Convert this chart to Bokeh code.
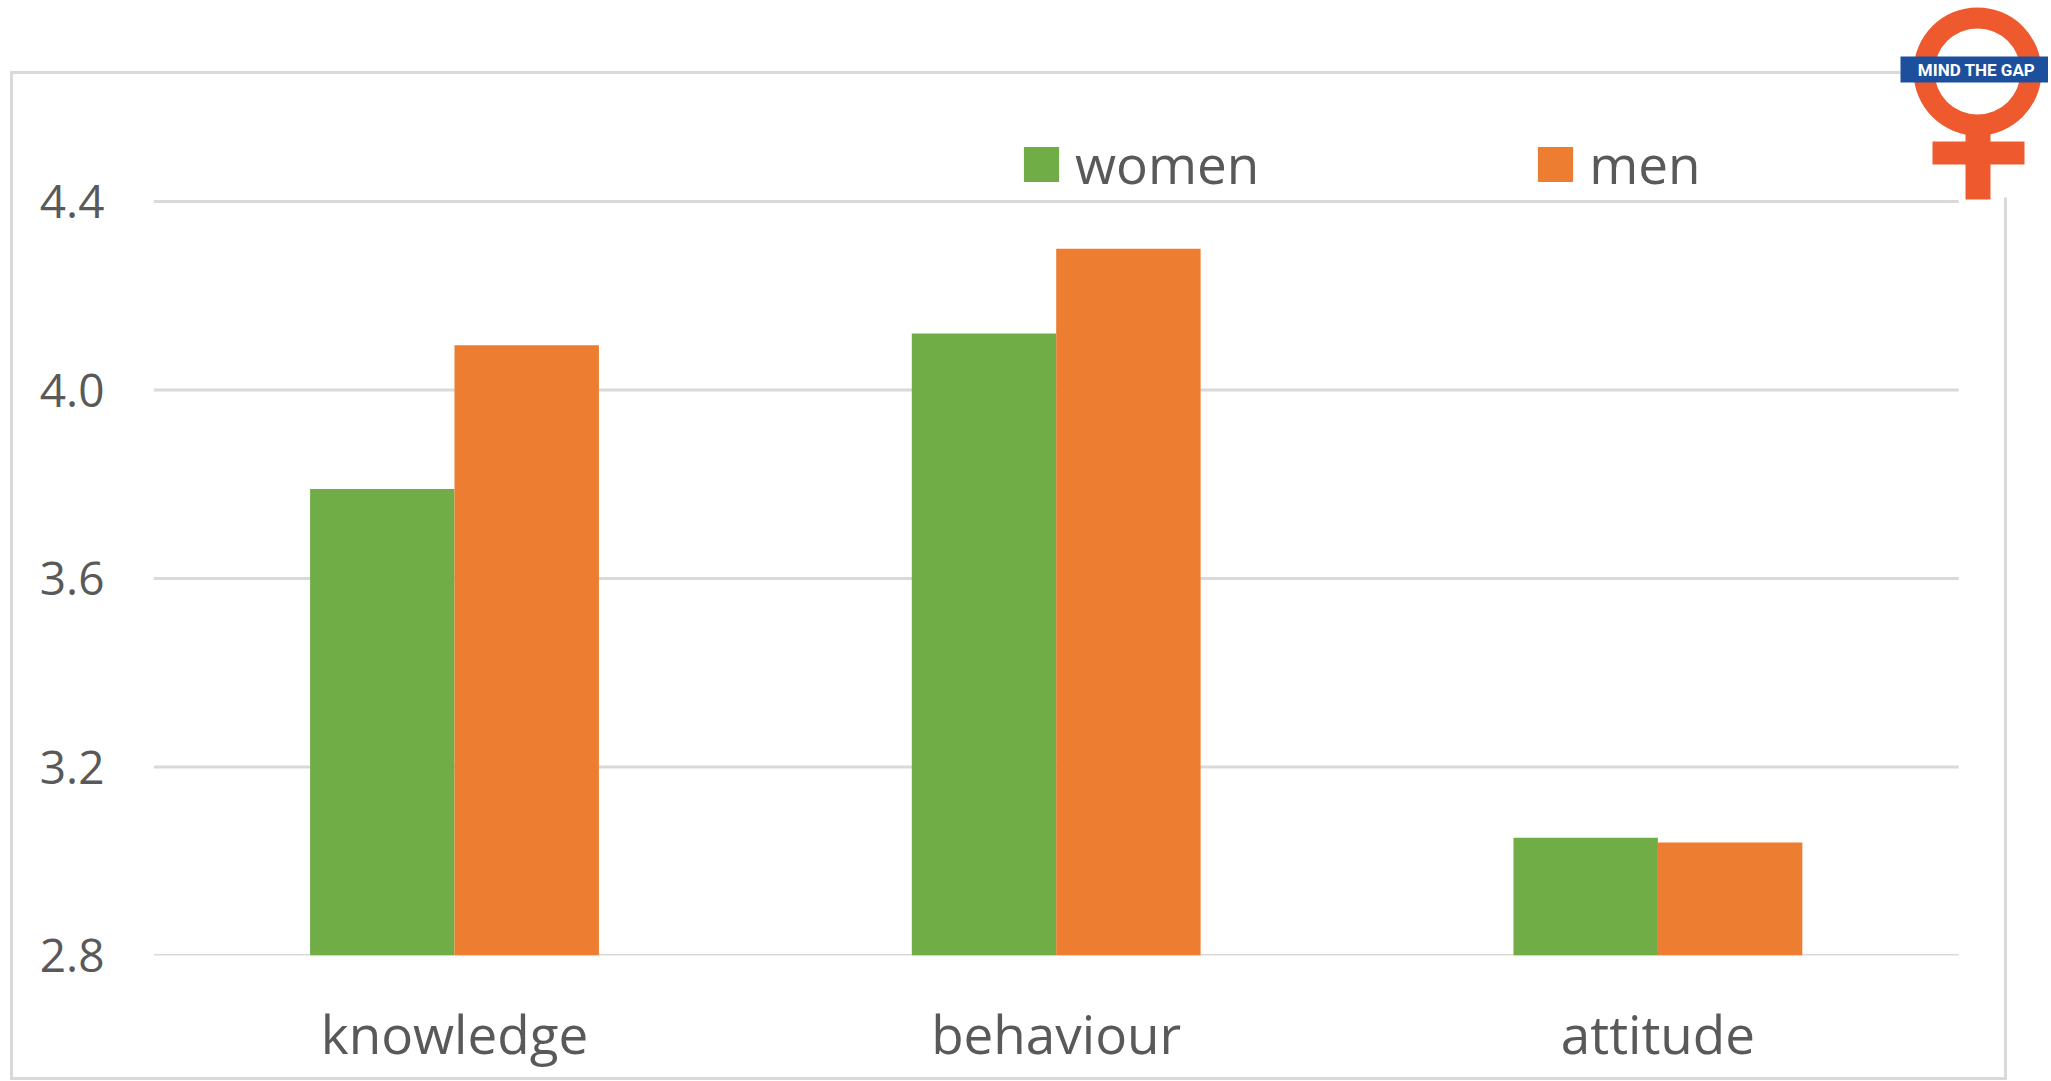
from bokeh.plotting import figure
from bokeh.models import (Range1d, FixedTicker, NumeralTickFormatter, Legend, LegendItem,
                          InlineStyleSheet)
from bokeh.core.properties import value
from bokeh.embed import file_html
from bokeh.resources import INLINE

# ---- data ----
categories = ["knowledge", "behaviour", "attitude"]
women = [3.79, 4.12, 3.05]
men = [4.095, 4.30, 3.04]
y_ticks = [2.8, 3.2, 3.6, 4.0, 4.4]
series_names = ["women", "men"]
series_colors = ["#70AD47", "#ED7D31"]

# ---- layout constants (canvas pixels) ----
W, H = 2048, 1078
BASE = 2.8
PX_PER_Y = 471.25      # pixels per y unit
PX_PER_X = 601.7       # pixels per category
CAT0_PX = 454.0        # x of first category centre
Y0_PX = 955.0          # y of 2.8
FRAME_L, FRAME_B = 153, 955


def xd(px):
    return (px - CAT0_PX) / PX_PER_X


def yd(py):
    return BASE + (Y0_PX - py) / PX_PER_Y


p = figure(width=W, height=H, output_backend="svg", toolbar_location=None,
           x_range=Range1d(xd(FRAME_L), xd(W)),
           y_range=Range1d(BASE, yd(0)),
           min_border_left=FRAME_L, min_border_right=0,
           min_border_top=0, min_border_bottom=H - FRAME_B)
p.outline_line_color = None
p.background_fill_alpha = 0
p.border_fill_alpha = 0
p.xgrid.visible = False
p.ygrid.visible = False

# chart border box, drawn behind the (transparent) canvas
p.stylesheets = [InlineStyleSheet(css="""
:host { position: relative; }
:host::before {
  content: ""; position: absolute; z-index: -1; pointer-events: none;
  left: 10px; top: 71px; width: 1997px; height: 1009px;
  border: 3px solid #D9D9D9; box-sizing: border-box;
}
""")]

# gridlines
n = len(categories)
p.segment(x0=[-0.5] * len(y_ticks), x1=[n - 0.5] * len(y_ticks), y0=y_ticks, y1=y_ticks,
          line_color="#D9D9D9", line_width=3)

# bars
xs = list(range(n))
bw = 0.24
r_w = p.vbar(x=[x - bw / 2 for x in xs], top=women, bottom=BASE, width=bw,
             fill_color=series_colors[0], line_color=None)
r_m = p.vbar(x=[x + bw / 2 for x in xs], top=men, bottom=BASE, width=bw,
             fill_color=series_colors[1], line_color=None)

# axes
p.xaxis.ticker = FixedTicker(ticks=xs)
p.xaxis.major_label_overrides = {i: c for i, c in enumerate(categories)}
p.xaxis.major_label_text_font = "Open Sans"
p.xaxis.major_label_text_font_size = "53px"
p.xaxis.major_label_text_color = "#595959"
p.xaxis.major_label_standoff = 35
p.yaxis.ticker = FixedTicker(ticks=y_ticks)
p.yaxis.formatter = NumeralTickFormatter(format="0.0")
p.yaxis.major_label_text_font = "Open Sans"
p.yaxis.major_label_text_font_size = "46px"
p.yaxis.major_label_text_color = "#595959"
p.yaxis.major_label_standoff = 43
for ax in (p.xaxis, p.yaxis):
    ax.axis_line_color = None
    ax.major_tick_line_color = None
    ax.minor_tick_line_color = None

# legend
legend = Legend(items=[LegendItem(label=series_names[0], renderers=[r_w]),
                       LegendItem(label=series_names[1], renderers=[r_m])],
                orientation="horizontal", location=(866, 755),
                spacing=274, glyph_width=44, glyph_height=44,
                label_standoff=12, label_text_font="Open Sans",
                label_text_font_size="53px", label_text_color="#595959",
                border_line_color=None, background_fill_alpha=0,
                padding=0, margin=0)
p.add_layout(legend)

# ---- logo (decoration) ----
LOGO_ORANGE = "#EE5A2E"
LOGO_BLUE = "#1C4F9C"
p.quad(left=[xd(1900)], right=[xd(W)], top=[yd(0)], bottom=[yd(197)],
       fill_color="white", line_color=None)
p.annulus(x=[xd(1977)], y=[yd(71)], inner_radius=43, outer_radius=64,
          inner_radius_units="screen", outer_radius_units="screen",
          fill_color=LOGO_ORANGE, line_color=None)
p.quad(left=[xd(1965)], right=[xd(1990)], top=[yd(130)], bottom=[yd(199)],
       fill_color=LOGO_ORANGE, line_color=None)
p.quad(left=[xd(1932)], right=[xd(2024)], top=[yd(141)], bottom=[yd(164)],
       fill_color=LOGO_ORANGE, line_color=None)
p.quad(left=[xd(1900)], right=[xd(W)], top=[yd(56)], bottom=[yd(82)],
       fill_color=LOGO_BLUE, line_color=None)
p.text(x=[xd(1976)], y=[yd(69)], text=["MIND THE GAP"], text_font=value("Roboto"),
       text_font_style="bold", text_font_size="17px", text_color="white",
       text_align="center", text_baseline="middle")

open("out.html", "w").write(file_html(p, INLINE))
